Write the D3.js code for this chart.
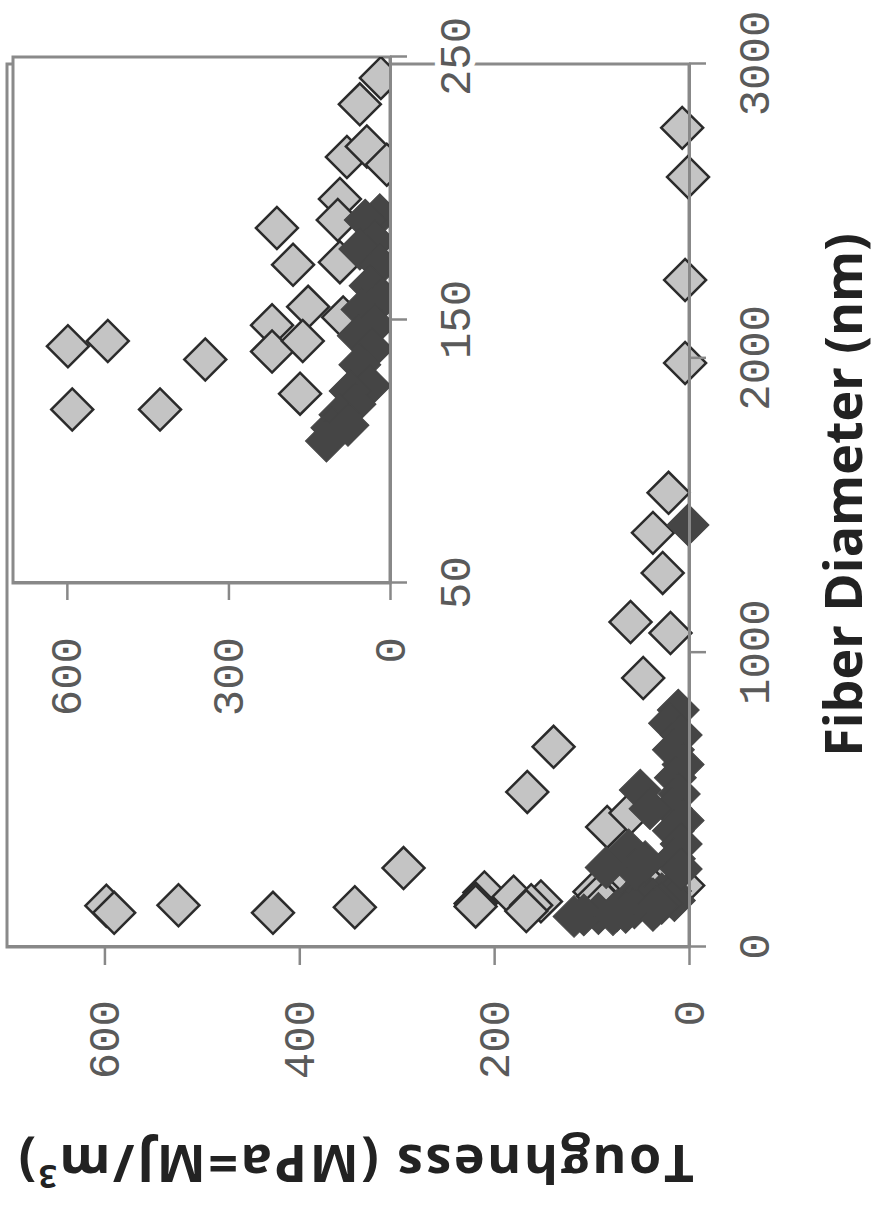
<!DOCTYPE html>
<html>
<head>
<meta charset="utf-8">
<script src="https://cdn.jsdelivr.net/npm/d3@7"></script>
<style>
  body { margin: 0; background: #fff; }
  .tick text { font-family: "Liberation Mono", monospace; font-size: 44px; fill: #5a5a5a; }
  .title { font-family: "Open Sans", sans-serif; font-weight: bold; font-size: 52px; fill: #222; }
</style>
</head>
<body>
<div id="viz"></div>
<script>
// light gray open diamonds: fiber diameter (nm) / toughness (MPa)
var lightFiber = [242, 232, 212, 216, 209, 196, 188, 185, 171, 155, 148, 138, 142, 122, 140, 142, 135, 116, 116, 172, 151,
                  268, 680, 527, 914, 1104, 1067, 1271, 1407, 1543, 1984, 2266, 2616, 2783, 408, 455];
var lightTough = [17, 56, 80, 43, 6, 93, 97, 210, 180, 152, 219, 219, 162, 167, 598, 524, 343, 590, 427, 93, 87,
                  293, 139, 166, 47, 60, 19, 27, 37, 21, 4, 4, 1, 7, 84, 60];

// dark filled diamonds
var darkFiber = [190, 188, 180, 177, 171, 163, 158, 154, 148, 144, 139, 133, 125, 123, 118, 114, 109, 110, 104,
                 1434, 805, 760, 720, 670, 620, 575, 533, 520, 470, 430, 395, 350, 300, 265, 290, 330, 262, 270, 470];
var darkTough = [19, 46, 28, 56, 19, 37, 15, 52, 28, 59, 33, 56, 37, 74, 65, 93, 108, 78, 118,
                 1, 11, 20, 8, 16, 6, 14, 50, 10, 18, 6, 16, 8, 15, 8, 45, 62, 55, 85, 40];

var mainXTicks = [0, 1000, 2000, 3000];
var mainYTicks = [0, 200, 400, 600];
var insetXTicks = [50, 150, 250];
var insetYTicks = [0, 300, 600];

var width = 879;
var height = 1221;

var lightData = lightFiber.map((f, i) => ({f: f, t: lightTough[i]}));
var darkData = darkFiber.map((f, i) => ({f: f, t: darkTough[i]}));

var svg = d3.select('#viz').append('svg')
  .attr('width', width)
  .attr('height', height)
  .style('background', '#fff');

// the figure is drawn upright and then turned a quarter turn to the left
var chart = svg.append('g')
  .attr('transform', 'translate(0,' + height + ') rotate(-90)');

var xMain = d3.scaleLinear().domain([0, 3000]).range([274, 1157]);
var yMain = d3.scaleLinear().domain([0, 700]).range([689, 7]);

var xIn = d3.scaleLinear().domain([50, 250]).range([638, 1164]);
var yIn = d3.scaleLinear().domain([0, 700]).range([390, 13]);

var diamond = d3.symbol(d3.symbolSquare, 880);
var fmt = d3.format('d');

function styleAxis(g) {
  g.select('.domain').attr('stroke', '#888').attr('stroke-width', 3);
  g.selectAll('.tick line').attr('stroke', '#888').attr('stroke-width', 2.5);
}

// main plot frame
chart.append('rect')
  .attr('x', xMain(0))
  .attr('y', yMain(700))
  .attr('width', xMain(3000) - xMain(0))
  .attr('height', yMain(0) - yMain(700))
  .attr('fill', '#fff')
  .attr('stroke', '#8a8a8a')
  .attr('stroke-width', 3);

function drawPoints(g, x, y, filt) {
  g.append('g').selectAll('path')
    .data(lightData.filter(filt)).enter().append('path')
    .attr('d', diamond)
    .attr('transform', d => 'translate(' + x(d.f) + ',' + y(d.t) + ') rotate(45)')
    .attr('fill', '#c4c4c4')
    .attr('stroke', '#2b2b2b')
    .attr('stroke-width', 2.5);
  g.append('g').selectAll('path')
    .data(darkData.filter(filt)).enter().append('path')
    .attr('d', diamond)
    .attr('transform', d => 'translate(' + x(d.f) + ',' + y(d.t) + ') rotate(45)')
    .attr('fill', '#454545')
    .attr('stroke', '#454545')
    .attr('stroke-width', 1);
}

drawPoints(chart, xMain, yMain, d => true);

var gx = chart.append('g')
  .attr('transform', 'translate(0,' + yMain(0) + ')')
  .call(d3.axisBottom(xMain).tickValues(mainXTicks).tickFormat(fmt).tickSize(17).tickSizeOuter(0).tickPadding(32));
styleAxis(gx);

var gy = chart.append('g')
  .attr('transform', 'translate(' + xMain(0) + ',0)')
  .call(d3.axisLeft(yMain).tickValues(mainYTicks).tickFormat(fmt).tickSize(18).tickSizeOuter(0).tickPadding(35));
styleAxis(gy);

// inset
var inset = chart.append('g');

inset.append('clipPath').attr('id', 'insetClip')
  .append('rect')
  .attr('x', xIn(50)).attr('y', yIn(700))
  .attr('width', xIn(250) - xIn(50)).attr('height', yIn(0) - yIn(700));

inset.append('rect')
  .attr('x', xIn(50))
  .attr('y', yIn(700))
  .attr('width', xIn(250) - xIn(50))
  .attr('height', yIn(0) - yIn(700))
  .attr('fill', '#fff')
  .attr('stroke', '#8a8a8a')
  .attr('stroke-width', 3);

var insetPts = inset.append('g').attr('clip-path', 'url(#insetClip)');
drawPoints(insetPts, xIn, yIn, d => d.f >= 50 && d.f <= 250);

var ix = inset.append('g')
  .attr('transform', 'translate(0,' + yIn(0) + ')')
  .call(d3.axisBottom(xIn).tickValues(insetXTicks).tickFormat(fmt).tickSize(17).tickSizeOuter(0).tickPadding(32));
styleAxis(ix);

var iy = inset.append('g')
  .attr('transform', 'translate(' + xIn(50) + ',0)')
  .call(d3.axisLeft(yIn).tickValues(insetYTicks).tickFormat(fmt).tickSize(17).tickSizeOuter(0).tickPadding(37));
styleAxis(iy);

// inset labels knock out the frame line behind them
inset.selectAll('.tick text')
  .attr('stroke', '#fff')
  .attr('stroke-width', 12)
  .attr('paint-order', 'stroke');

// axis titles
chart.append('text')
  .attr('class', 'title')
  .attr('x', 726)
  .attr('y', 862)
  .attr('text-anchor', 'middle')
  .text('Fiber Diameter (nm)');

var yTitle = chart.append('text')
  .attr('class', 'title')
  .attr('text-anchor', 'middle')
  .attr('letter-spacing', 2.5)
  .attr('transform', 'translate(76,355) rotate(-90)');
yTitle.append('tspan').text('Toughness (MPa=MJ/m');
yTitle.append('tspan').attr('font-size', '32px').attr('dy', '-20').text('3');
yTitle.append('tspan').attr('dy', '20').text(')');
</script>
</body>
</html>
